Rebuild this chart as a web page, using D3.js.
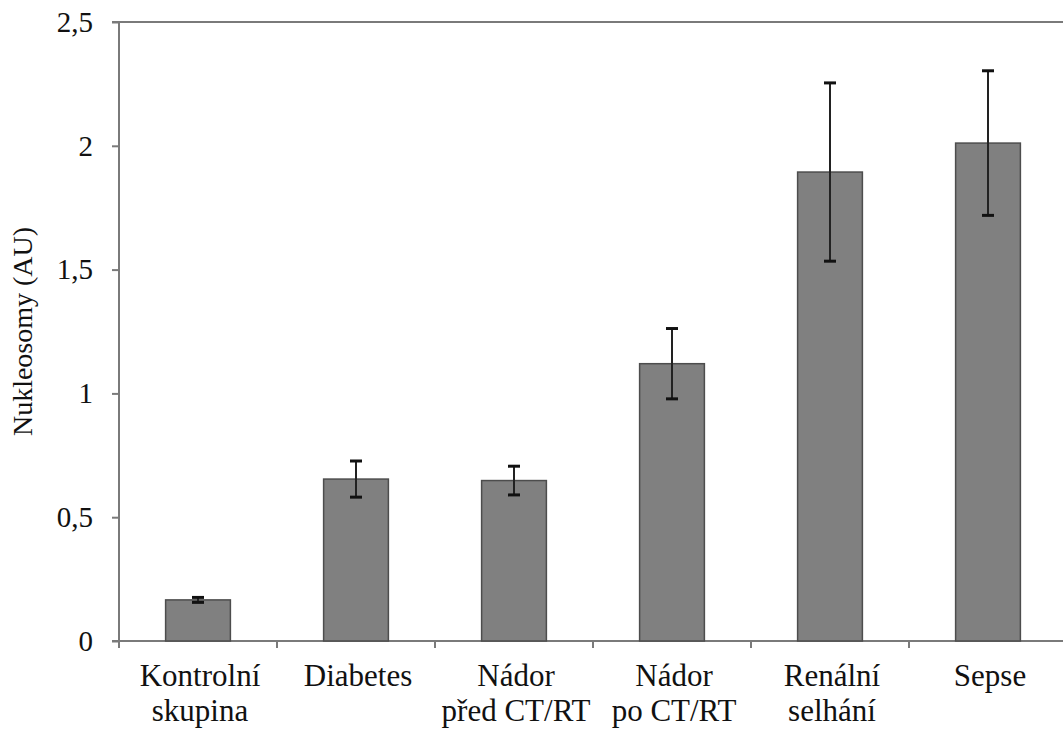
<!DOCTYPE html>
<html>
<head>
<meta charset="utf-8">
<script src="https://cdn.jsdelivr.net/npm/d3@7"></script>
<style>
  body { margin: 0; background: #fff; }
</style>
</head>
<body>
<div id="chart"></div>
<script>
// data
const categories = ["Kontrolní\nskupina", "Diabetes", "Nádor\npřed CT/RT", "Nádor\npo CT/RT", "Renální\nselhání", "Sepse"];
const values = [0.166, 0.654, 0.648, 1.12, 1.894, 2.011];
const errors = [0.01, 0.073, 0.058, 0.142, 0.36, 0.292];
const yTicks = [0, 0.5, 1, 1.5, 2, 2.5];

const W = 1063, H = 729;
const margin = {left: 119, top: 22, right: -4, bottom: 88};
const width = W - margin.left - margin.right,
      height = H - margin.top - margin.bottom;
const serif = '"Liberation Serif", "Times New Roman", Tinos, "DejaVu Serif", serif';

const svg = d3.select('#chart')
  .append('svg')
  .attr('width', W)
  .attr('height', H)
  .attr('font-family', serif);

const g = svg.append('g')
  .attr('transform', 'translate(' + margin.left + ',' + margin.top + ')');

// scales
const x = d3.scaleBand()
  .domain(categories)
  .range([0, width])
  .padding(0);
const y = d3.scaleLinear()
  .domain([0, 2.5])
  .range([height, 0]);

const cz = d3.formatLocale({decimal: ",", thousands: " ", grouping: [3], currency: ["", ""]});
const fmt = cz.format("~g");

const axisColor = '#7a7a7a';

// top frame line
g.append('line')
  .attr('x1', -7).attr('x2', width)
  .attr('y1', y(2.5)).attr('y2', y(2.5))
  .attr('stroke', axisColor).attr('stroke-width', 2);

// y axis
const yAxis = g.append('g')
  .call(d3.axisLeft(y).tickValues(yTicks).tickFormat(fmt).tickSize(7).tickPadding(19))
  .attr('font-family', serif)
  .attr('font-size', 29);
yAxis.select('.domain').remove();
yAxis.selectAll('.tick line').attr('stroke', axisColor).attr('stroke-width', 2);
yAxis.selectAll('.tick text').attr('fill', '#111');
g.append('line')
  .attr('x1', 0).attr('x2', 0)
  .attr('y1', 0).attr('y2', height + 7)
  .attr('stroke', axisColor).attr('stroke-width', 2);

// x axis
const xAxis = g.append('g')
  .attr('transform', 'translate(0,' + height + ')')
  .call(d3.axisBottom(x).tickSize(0).tickPadding(0))
  .attr('font-family', serif)
  .attr('font-size', 31);
xAxis.select('.domain')
  .attr('d', 'M-7,0H' + width)
  .attr('stroke', axisColor).attr('stroke-width', 2);
xAxis.selectAll('.tick text').remove();
xAxis.selectAll('.tick').each(function(d) {
  const lines = d.split('\n');
  const t = d3.select(this).append('text')
    .attr('text-anchor', 'middle')
    .attr('fill', '#111');
  lines.forEach((s, i) => {
    t.append('tspan').attr('x', 2).attr('y', 45 + i * 35).text(s);
  });
});
// boundary ticks between categories
xAxis.selectAll('.bound')
  .data(categories.slice(0, -1))
  .enter()
  .append('line')
  .attr('class', 'bound')
  .attr('x1', d => x(d) + x.bandwidth())
  .attr('x2', d => x(d) + x.bandwidth())
  .attr('y1', 0).attr('y2', 7)
  .attr('stroke', axisColor).attr('stroke-width', 2);

// bars
const barW = x.bandwidth() * 0.41;
const data = categories.map((c, i) => ({c: c, v: values[i], e: errors[i]}));

g.selectAll('rect.bar')
  .data(data)
  .enter()
  .append('rect')
  .attr('class', 'bar')
  .attr('x', d => x(d.c) + (x.bandwidth() - barW) / 2)
  .attr('y', d => y(d.v))
  .attr('width', barW)
  .attr('height', d => height - y(d.v))
  .attr('fill', '#808080')
  .attr('stroke', '#4d4d4d')
  .attr('stroke-width', 1.5);

// error bars
const eb = g.selectAll('g.err')
  .data(data)
  .enter()
  .append('g')
  .attr('class', 'err')
  .attr('transform', d => 'translate(' + (x(d.c) + x.bandwidth() / 2) + ',0)');
eb.append('line')
  .attr('x1', 0).attr('x2', 0)
  .attr('y1', d => y(d.v + d.e))
  .attr('y2', d => y(d.v - d.e))
  .attr('stroke', '#222').attr('stroke-width', 2);
eb.selectAll('line.cap')
  .data(d => [d.v + d.e, d.v - d.e])
  .enter()
  .append('line')
  .attr('class', 'cap')
  .attr('x1', -6).attr('x2', 6)
  .attr('y1', v => y(v)).attr('y2', v => y(v))
  .attr('stroke', '#111').attr('stroke-width', 3);

// y label
svg.append('text')
  .attr('transform', 'translate(32,' + (margin.top + height / 2) + ') rotate(-90)')
  .attr('text-anchor', 'middle')
  .attr('font-size', 28)
  .attr('fill', '#111')
  .text('Nukleosomy (AU)');
</script>
</body>
</html>
